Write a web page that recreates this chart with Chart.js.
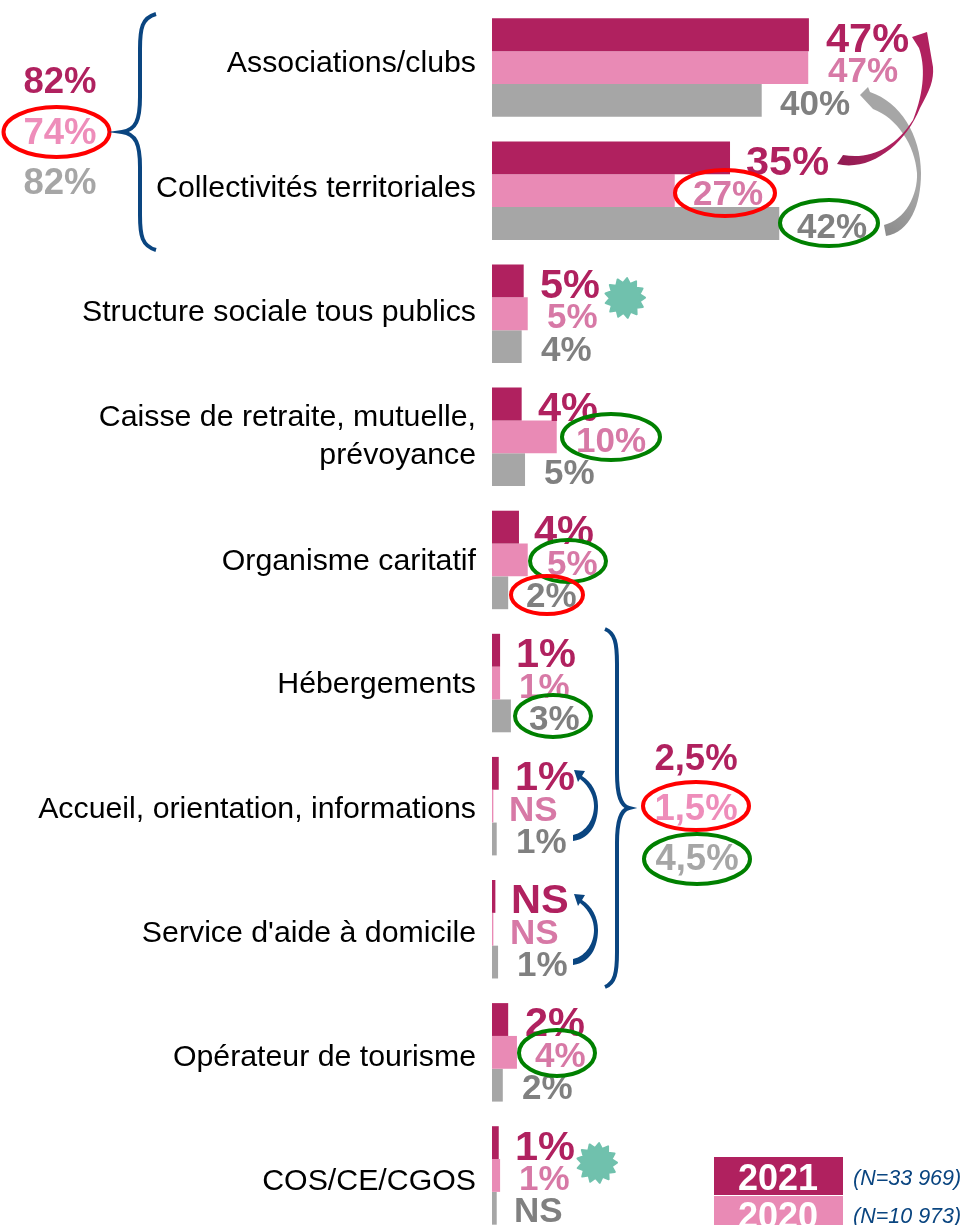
<!DOCTYPE html>
<html lang="fr">
<head>
<meta charset="utf-8">
<title>Chart</title>
<script src="https://cdn.jsdelivr.net/npm/chart.js@4"></script>
<style>
html, body { margin: 0; padding: 0; height: 1225px; overflow: hidden; background: #fff; }
canvas { display: block; }
</style>
</head>
<body>
<canvas id="chart" width="964" height="1250"></canvas>
<script>
const categories = [
    'Associations/clubs',
    'Collectivités territoriales',
    'Structure sociale tous publics',
    ['Caisse de retraite, mutuelle,', 'prévoyance'],
    'Organisme caritatif',
    'Hébergements',
    'Accueil, orientation, informations',
    "Service d'aide à domicile",
    'Opérateur de tourisme',
    'COS/CE/CGOS',
];

const values2021 = [47, 35.3, 4.7, 4.4, 4, 1.2, 1, 0.5, 2.4, 1];
const values2020 = [46.9, 27.1, 5.3, 9.6, 5.3, 1.2, 0.2, 0.2, 3.7, 1.2];
const valuesPrev = [40, 42.6, 4.4, 4.9, 2.4, 2.8, 0.7, 0.9, 1.6, 0.7];

const labels2021 = ['47%', '35%', '5%', '4%', '4%', '1%', '1%', 'NS', '2%', '1%'];
const labels2020 = ['47%', '27%', '5%', '10%', '5%', '1%', 'NS', 'NS', '4%', '1%'];
const labelsPrev = ['40%', '42%', '4%', '5%', '2%', '3%', '1%', '1%', '2%', 'NS'];

// left edge of each value label, px
const left2021 = [826, 746, 540, 538, 534, 516, 515, 511, 525, 515];
const left2020 = [828, 693, 547, 576, 547, 519, 509, 510, 535, 519];
const leftPrev = [780, 797, 541, 544, 526, 529, 516, 517, 522, 514];

// the category labels do not sit exactly on the bar groups in the original
const tickShift = [-4, -2, -1, 0, 2, 1.5, 3.5, 4, 5, 6];

const crimson = '#B0215F';
const pink = '#E98AB5';
const grey = '#A6A6A6';
const navy = '#0A4580';
const red = '#FF0000';
const green = '#008000';
const teal = '#70C1AD';

const series = [
    { labels: labels2021, left: left2021, color: crimson, size: 41.5, dy: 5.5 },
    { labels: labels2020, left: left2020, color: '#D779A6', size: 35, dy: 5 },
    { labels: labelsPrev, left: leftPrev, color: '#808080', size: 35, dy: 4.5 },
];

const totals = [
    ['82%', 60, 83, crimson], ['74%', 60, 134, '#EE8DBA'], ['82%', 60, 184, grey],
    ['2,5%', 696, 760, crimson], ['1,5%', 696, 810, '#EE8DBA'], ['4,5%', 697, 860, grey],
];

// cx, cy, rx, ry, colour
const rings = [
    [56.5, 132, 53, 25, red], [725, 193, 50, 23, red], [829, 223, 49, 23, green],
    [611, 437, 49, 23, green], [568, 561, 38, 21, green], [547, 595, 36, 19, red],
    [553, 716, 38, 21, green], [696, 806, 53, 24, red], [697, 859, 53, 25, green],
    [557, 1053, 38, 23, green],
];

function text(ctx, str, x, y, font, color, align) {
    ctx.font = font;
    ctx.fillStyle = color;
    ctx.textAlign = align || 'center';
    ctx.textBaseline = 'middle';
    ctx.fillText(str, x, y);
}

function brace(ctx, topX, spineX, tipX, topY, tipY, botY) {
    const dir = spineX > tipX ? 1 : -1;
    ctx.beginPath();
    ctx.moveTo(topX, topY);
    ctx.bezierCurveTo(spineX + dir * 2, topY + 4, spineX, topY + 14, spineX, topY + 35);
    ctx.lineTo(spineX, tipY - 35);
    ctx.bezierCurveTo(spineX, tipY - 12, spineX - dir * 4, tipY - 2, tipX, tipY);
    ctx.bezierCurveTo(spineX - dir * 4, tipY + 2, spineX, tipY + 12, spineX, tipY + 35);
    ctx.lineTo(spineX, botY - 35);
    ctx.bezierCurveTo(spineX, botY - 14, spineX + dir * 2, botY - 4, topX, botY);
    ctx.strokeStyle = navy;
    ctx.lineWidth = 4;
    ctx.stroke();
}

function splat(ctx, cx, cy) {
    const n = 13;
    ctx.beginPath();
    for (let i = 0; i <= n * 2; i++) {
        const r = i % 2 ? 15 : 20;
        const a = i * Math.PI / n - 0.5;
        const x = cx + r * Math.cos(a);
        const y = cy + r * Math.sin(a);
        if (i === 0) ctx.moveTo(x, y); else ctx.lineTo(x, y);
    }
    ctx.closePath();
    ctx.fillStyle = teal;
    ctx.strokeStyle = teal;
    ctx.lineJoin = 'round';
    ctx.lineWidth = 2;
    ctx.fill();
    ctx.stroke();
}

function blueArrow(ctx, topY) {
    ctx.beginPath();
    ctx.moveTo(573, topY + 73);
    ctx.bezierCurveTo(594, topY + 70, 598, topY + 50, 598, topY + 38);
    ctx.bezierCurveTo(598, topY + 25, 592, topY + 14, 582, topY + 8);
    ctx.lineTo(585, topY + 3);
    ctx.lineTo(574, topY + 2);
    ctx.lineTo(578, topY + 14);
    ctx.lineTo(580, topY + 11);
    ctx.bezierCurveTo(590, topY + 19, 594, topY + 29, 594, topY + 38);
    ctx.bezierCurveTo(594, topY + 50, 587, topY + 64, 573, topY + 67);
    ctx.closePath();
    ctx.fillStyle = navy;
    ctx.fill();
}

function trendArrows(ctx) {
    let shade = ctx.createLinearGradient(884, 232, 916, 190);
    shade.addColorStop(0, '#8C8C8C');
    shade.addColorStop(1, grey);
    ctx.beginPath();
    ctx.moveTo(884, 225);
    ctx.bezierCurveTo(905, 220, 918, 195, 917, 173);
    ctx.bezierCurveTo(915, 145, 897, 118, 873, 109);
    ctx.lineTo(860, 95);
    ctx.lineTo(868, 87);
    ctx.lineTo(870, 92);
    ctx.bezierCurveTo(900, 102, 921, 135, 921, 173);
    ctx.bezierCurveTo(921, 205, 910, 232, 886, 236);
    ctx.closePath();
    ctx.fillStyle = shade;
    ctx.fill();

    shade = ctx.createLinearGradient(838, 162, 895, 145);
    shade.addColorStop(0, '#8F1C52');
    shade.addColorStop(1, crimson);
    ctx.beginPath();
    ctx.moveTo(837, 164);
    ctx.bezierCurveTo(870, 172, 905, 145, 920, 108);
    ctx.bezierCurveTo(930, 90, 934, 80, 933, 67);
    ctx.lineTo(927, 32);
    ctx.lineTo(912, 37);
    ctx.lineTo(919, 48);
    ctx.bezierCurveTo(925, 65, 925, 90, 913, 120);
    ctx.bezierCurveTo(895, 148, 870, 160, 843, 155);
    ctx.closePath();
    ctx.fillStyle = shade;
    ctx.fill();
}

const drawingsPlugin = {
    id: 'drawings',
    afterLayout(chart) {
        chart.scales.y.getLabelItems().forEach((item, i) => {
            item.options.translation[1] += tickShift[i];
        });
    },
    afterDatasetsDraw(chart) {
        const ctx = chart.ctx;
        ctx.save();

        series.forEach((s, i) => {
            chart.getDatasetMeta(i).data.forEach((bar, j) => {
                text(ctx, s.labels[j], s.left[j], bar.y + s.dy, 'bold ' + s.size + 'px "Liberation Sans"', s.color, 'left');
            });
        });

        totals.forEach(t => text(ctx, t[0], t[1], t[2], 'bold 36.5px "Liberation Sans"', t[3]));

        rings.forEach(r => {
            ctx.beginPath();
            ctx.ellipse(r[0], r[1], r[2], r[3], 0, 0, Math.PI * 2);
            ctx.strokeStyle = r[4];
            ctx.lineWidth = 4;
            ctx.stroke();
        });

        brace(ctx, 156, 140, 122, 14, 132, 250);
        brace(ctx, 605, 617, 629, 629, 808, 987);
        blueArrow(ctx, 768);
        blueArrow(ctx, 892);
        trendArrows(ctx);
        splat(ctx, 625, 298);
        splat(ctx, 597, 1163);

        ctx.fillStyle = crimson;
        ctx.fillRect(714, 1157, 129, 38);
        ctx.fillStyle = pink;
        ctx.fillRect(714, 1196, 129, 40);
        text(ctx, '2021', 778, 1180, 'bold 36px "Liberation Sans"', '#fff');
        text(ctx, '2020', 778, 1218, 'bold 36px "Liberation Sans"', '#fff');
        text(ctx, '(N=33 969)', 853, 1179, 'italic 21.5px "Liberation Sans"', navy, 'left');
        text(ctx, '(N=10 973)', 853, 1217, 'italic 21.5px "Liberation Sans"', navy, 'left');

        ctx.restore();
    },
};

new Chart(document.getElementById('chart'), {
    type: 'bar',
    data: {
        labels: categories,
        datasets: [
            { label: '2021', data: values2021, backgroundColor: crimson },
            { label: '2020', data: values2020, backgroundColor: pink },
            { label: 'Précédent', data: valuesPrev, backgroundColor: grey },
        ],
    },
    plugins: [drawingsPlugin],
    options: {
        indexAxis: 'y',
        responsive: false,
        animation: false,
        categoryPercentage: 0.8,
        barPercentage: 1,
        layout: { padding: { top: 6, bottom: 13 } },
        scales: {
            x: { display: false, min: 0, max: 70 },
            y: {
                afterFit(axis) {
                    axis.width = 492;
                    axis.paddingTop = 0;
                    axis.paddingBottom = 0;
                },
                border: { display: false },
                grid: { display: false, drawTicks: false },
                ticks: {
                    autoSkip: false,
                    padding: 16,
                    color: '#000',
                    font: { family: '"Liberation Sans"', size: 30.3, lineHeight: 1.25 },
                },
            },
        },
        plugins: { legend: { display: false }, tooltip: { enabled: false } },
    },
});
</script>
</body>
</html>
